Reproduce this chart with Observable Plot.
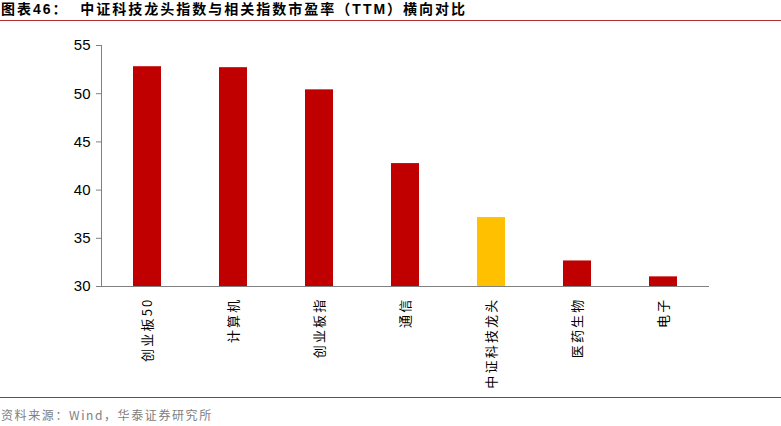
<!DOCTYPE html>
<html><head><meta charset="utf-8">
<script src="https://cdn.jsdelivr.net/npm/d3@7"></script>
<script src="https://cdn.jsdelivr.net/npm/@observablehq/plot@0.6"></script>
<style>
body{margin:0;background:#fff;width:781px;font-family:"Liberation Sans","Noto Sans CJK SC",sans-serif;}
#title{height:20px;border-bottom:1.5px solid #b03030;font:bold 14px "Liberation Sans","Noto Sans CJK SC",sans-serif;letter-spacing:2px;line-height:18px;padding-left:1px;color:#000;white-space:pre;}
#chart svg{display:block;}
#foot{border-top:1.5px solid #b03030;height:26px;font:12px "Noto Sans CJK SC","Liberation Sans",sans-serif;letter-spacing:1.6px;color:#808080;line-height:34px;padding-left:1px;}
</style></head>
<body>
<div id="title">图表46：  中证科技龙头指数与相关指数市盈率（TTM）横向对比</div>
<div id="chart"></div>
<div id="foot">资料来源：Wind，华泰证券研究所</div>
<script>
const categories = ["创业板50","计算机","创业板指","通信","中证科技龙头","医药生物","电子"];
const values = [52.8, 52.7, 50.4, 42.75, 37.15, 32.65, 31.0];
const highlight = "中证科技龙头";
const yTicks = [30, 35, 40, 45, 50, 55];
const yMin = 30, yMax = 55;

const data = categories.map((c, i) => ({cat: c, v: values[i]}));

const chart = Plot.plot({
  width: 781,
  height: 376,
  marginLeft: 101,
  marginRight: 73,
  marginTop: 24,
  marginBottom: 111,
  x: {domain: categories, paddingInner: 0.68, paddingOuter: 0.34, label: null},
  y: {domain: [yMin, yMax], ticks: yTicks, label: null},
  style: {fontFamily: '"Liberation Sans","Noto Sans CJK SC",sans-serif', color: "#000", background: "#fff"},
  marks: [
    Plot.barY(data, {x: "cat", y1: () => yMin, y2: "v", fill: d => d.cat === highlight ? "#ffc000" : "#c00000"}),
    Plot.axisY({ticks: yTicks, tickSize: 5, tickPadding: 6, fontSize: 15, stroke: "#808080", label: null}),
    Plot.axisX({tickSize: 0, tickRotate: -90, tickPadding: 11, fontSize: 13, fontFamily: '"Noto Sans CJK SC",sans-serif', label: null}),
    Plot.frame({anchor: "left", stroke: "#808080"}),
    Plot.frame({anchor: "bottom", stroke: "#808080"})
  ]
});
d3.select(chart).selectAll("g[aria-label='x-axis tick label'] text").style("letter-spacing", "2.2px");
document.getElementById("chart").appendChild(chart);
</script>
</body></html>
